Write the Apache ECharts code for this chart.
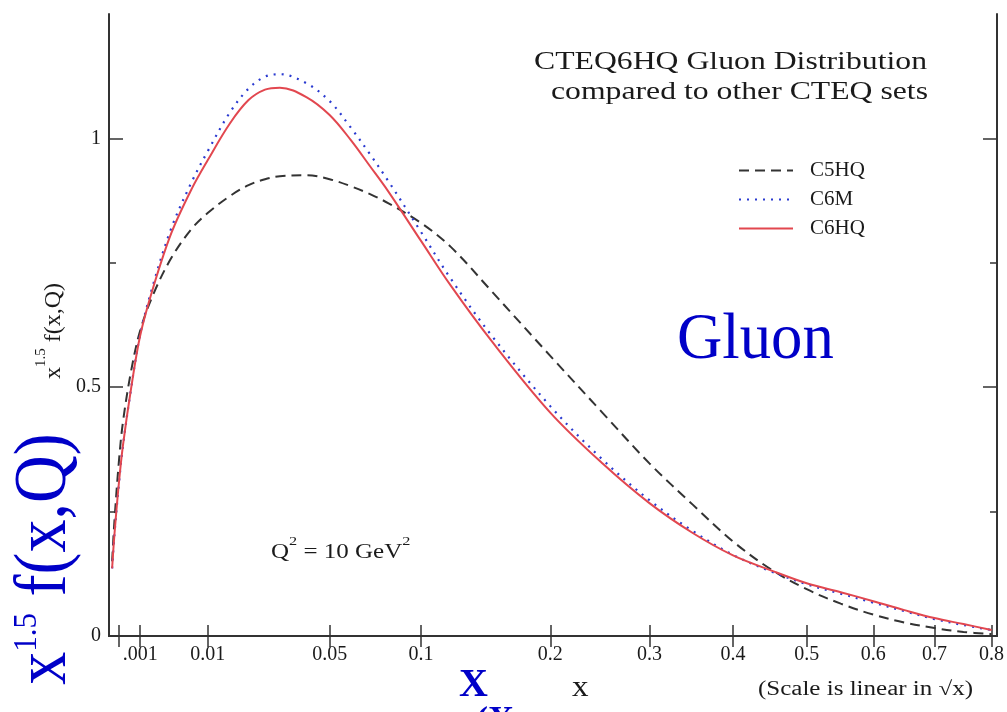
<!DOCTYPE html>
<html>
<head>
<meta charset="utf-8">
<script src="https://cdn.jsdelivr.net/npm/echarts@6/dist/echarts.min.js"></script>
<style>
  html, body { margin: 0; padding: 0; background: #ffffff; }
  #chart { width: 1007px; height: 712px; }
</style>
</head>
<body>
<div id="chart"></div>
<script>
// Momentum fraction x at which the gluon distributions are sampled
const xPoints = [0.00001, 0.00003, 0.0001, 0.0002, 0.0005, 0.001, 0.002, 0.004, 0.007,
  0.01, 0.015, 0.02, 0.025, 0.03, 0.04, 0.05, 0.06, 0.07, 0.08, 0.1, 0.12, 0.15,
  0.2, 0.25, 0.3, 0.35, 0.4, 0.45, 0.5, 0.55, 0.6, 0.65, 0.7, 0.75, 0.8];

// x^1.5 f(x,Q) at Q^2 = 10 GeV^2
const c5hq = [0.150, 0.230, 0.350, 0.430, 0.532, 0.614, 0.686, 0.760, 0.818,
  0.850, 0.884, 0.906, 0.918, 0.924, 0.926, 0.918, 0.904, 0.888, 0.870, 0.830, 0.782, 0.694,
  0.563, 0.449, 0.347, 0.264, 0.190, 0.134, 0.094, 0.065, 0.043, 0.027, 0.016, 0.008, 0.004];
const c6m = [0.136, 0.203, 0.305, 0.382, 0.497, 0.606, 0.706, 0.820, 0.912,
  0.974, 1.052, 1.100, 1.124, 1.129, 1.111, 1.075, 1.022, 0.968, 0.915, 0.812, 0.718, 0.605,
  0.462, 0.355, 0.273, 0.211, 0.163, 0.130, 0.104, 0.085, 0.067, 0.050, 0.034, 0.022, 0.012];
const c6hq = [0.136, 0.203, 0.307, 0.383, 0.497, 0.604, 0.700, 0.810, 0.898,
  0.956, 1.030, 1.077, 1.098, 1.102, 1.083, 1.047, 0.997, 0.944, 0.894, 0.794, 0.704, 0.594,
  0.449, 0.347, 0.267, 0.207, 0.162, 0.132, 0.106, 0.088, 0.070, 0.052, 0.036, 0.024, 0.012];

// Axis ticks (the x axis is linear in sqrt(x))
const xTickValues = [0.0001, 0.001, 0.01, 0.05, 0.1, 0.2, 0.3, 0.4, 0.5, 0.6, 0.7, 0.8];
const xTickLabels = ['', '.001', '0.01', '0.05', '0.1', '0.2', '0.3', '0.4', '0.5', '0.6', '0.7', '0.8'];
const yTickValues = [0, 0.5, 1];
const yTickLabels = ['0', '0.5', '1'];
const yMinorTicks = [0.25, 0.75];

const seriesNames = ['C5HQ', 'C6M', 'C6HQ'];

const SERIF = '"Liberation Serif", "DejaVu Serif", serif';
const AXIS_COLOR = '#333333';
const TEXT_COLOR = '#1a1a1a';
const BLUE = '#0000c8';

const sqrtTicks = xTickValues.map(Math.sqrt);
const toPairs = (vals) => xPoints.map((x, i) => [Math.sqrt(x), vals[i]]);

function xLabel(v) {
  const i = sqrtTicks.findIndex(t => Math.abs(t - v) < 1e-7);
  return i >= 0 ? xTickLabels[i] : '';
}
function yLabel(v) {
  const i = yTickValues.findIndex(t => Math.abs(t - v) < 1e-7);
  return i >= 0 ? yTickLabels[i] : '';
}

const axisLine = { show: true, lineStyle: { color: AXIS_COLOR, width: 2 } };
const labelFont = { fontFamily: SERIF, fontSize: 20, color: TEXT_COLOR };

function xAxisDef(position, withLabels) {
  return {
    type: 'value', min: 0, max: 0.9, position: position,
    axisLine: axisLine,
    axisTick: { show: true, inside: true, length: 11, customValues: sqrtTicks,
      lineStyle: { color: AXIS_COLOR, width: 1.5 } },
    axisLabel: withLabels
      ? Object.assign({ show: true, customValues: sqrtTicks, formatter: xLabel, margin: 9 }, labelFont)
      : { show: false },
    splitLine: { show: false }
  };
}
function yAxisDef(position, ticks, len, withLine, withLabels) {
  return {
    type: 'value', min: 0, max: 1.25, position: position,
    axisLine: withLine ? axisLine : { show: false },
    axisTick: { show: true, inside: true, length: len, customValues: ticks,
      lineStyle: { color: AXIS_COLOR, width: 1.5 } },
    axisLabel: withLabels
      ? Object.assign({ show: true, customValues: ticks, formatter: yLabel, margin: 8 }, labelFont)
      : { show: false },
    splitLine: { show: false }
  };
}

function curve(name, vals, color, width, type) {
  return {
    name: name, type: 'line', data: toPairs(vals), smooth: 0.35, showSymbol: false,
    symbol: 'none', lineStyle: { color: color, width: width, type: type },
    itemStyle: { color: color }
  };
}

const chart = echarts.init(document.getElementById('chart'), null, { renderer: 'canvas' });

chart.setOption({
  backgroundColor: '#ffffff',
  animation: false,
  grid: { left: 109, top: 14, width: 889, height: 622 },
  xAxis: [xAxisDef('bottom', true), xAxisDef('top', false)],
  yAxis: [
    yAxisDef('left', yTickValues, 14, true, true),
    yAxisDef('left', yMinorTicks, 7, false, false),
    yAxisDef('right', yTickValues, 14, true, false),
    yAxisDef('right', yMinorTicks, 7, false, false)
  ],
  legend: {
    orient: 'vertical', left: 738, top: 160, padding: 0,
    itemWidth: 54, itemHeight: 14, itemGap: 8,
    data: seriesNames,
    itemStyle: { opacity: 0 },
    textStyle: { fontFamily: SERIF, fontSize: 21, color: TEXT_COLOR, padding: [0, 0, 0, 12] }
  },
  series: [
    curve(seriesNames[0], c5hq, '#333333', 2, [10, 6]),
    curve(seriesNames[1], c6m, '#2a3ad0', 2.2, [2, 6]),
    curve(seriesNames[2], c6hq, '#e2474f', 2, 'solid')
  ],
  graphic: [
    { type: 'text', x: 927, y: 62, scaleX: 1.22, silent: true,
      style: { text: 'CTEQ6HQ Gluon Distribution', fontFamily: SERIF, fontSize: 26,
        fill: TEXT_COLOR, align: 'right', verticalAlign: 'middle' } },
    { type: 'text', x: 928, y: 92, scaleX: 1.22, silent: true,
      style: { text: 'compared to other CTEQ sets', fontFamily: SERIF, fontSize: 26,
        fill: TEXT_COLOR, align: 'right', verticalAlign: 'middle' } },
    { type: 'text', x: 677, y: 341, scaleX: 0.95, silent: true,
      style: { text: 'Gluon', fontFamily: SERIF, fontSize: 66, fill: BLUE,
        align: 'left', verticalAlign: 'middle' } },
    { type: 'text', x: 271, y: 549, scaleX: 1.25, silent: true,
      style: { text: '{m|Q}{s|2}{m| = 10 GeV}{s|2}', align: 'left', verticalAlign: 'middle',
        rich: {
          m: { fontFamily: SERIF, fontSize: 20, lineHeight: 27, verticalAlign: 'bottom', fill: TEXT_COLOR },
          s: { fontFamily: SERIF, fontSize: 13, lineHeight: 13, verticalAlign: 'top', fill: TEXT_COLOR }
        } } },
    // small axis title
    { type: 'text', x: 50, y: 331, rotation: Math.PI / 2, silent: true,
      style: { text: '{m|x}{s|1.5}{m| f(x,Q)}', align: 'center', verticalAlign: 'middle',
        rich: {
          m: { fontFamily: SERIF, fontSize: 24, lineHeight: 32, verticalAlign: 'bottom', fill: TEXT_COLOR },
          s: { fontFamily: SERIF, fontSize: 15, lineHeight: 15, verticalAlign: 'top', fill: TEXT_COLOR }
        } } },
    // large blue axis title
    { type: 'text', x: 46, y: 559, rotation: Math.PI / 2, scaleY: 1.12, silent: true,
      style: { text: '{m|x}{s|1.5}{m| f(x,Q)}', align: 'center', verticalAlign: 'middle',
        rich: {
          m: { fontFamily: SERIF, fontSize: 66, lineHeight: 66, verticalAlign: 'bottom', fill: BLUE },
          s: { fontFamily: SERIF, fontSize: 31, lineHeight: 36, verticalAlign: 'top', fill: BLUE }
        } } },
    { type: 'text', x: 459, y: 686, silent: true,
      style: { text: 'X', fontFamily: SERIF, fontSize: 40, fontWeight: 'bold', fill: BLUE,
        align: 'left', verticalAlign: 'middle' } },
    { type: 'text', x: 476, y: 722, silent: true,
      style: { text: '(X', fontFamily: SERIF, fontSize: 36, fontWeight: 'bold', fill: BLUE,
        align: 'left', verticalAlign: 'middle' } },
    { type: 'text', x: 572, y: 688, scaleX: 1.1, silent: true,
      style: { text: 'x', fontFamily: SERIF, fontSize: 30, fill: TEXT_COLOR,
        align: 'left', verticalAlign: 'middle' } },
    { type: 'text', x: 758, y: 690, scaleX: 1.25, silent: true,
      style: { text: '(Scale is linear in \u221Ax)', fontFamily: SERIF, fontSize: 20, fill: TEXT_COLOR,
        align: 'left', verticalAlign: 'middle' } }
  ]
});
</script>
</body>
</html>
